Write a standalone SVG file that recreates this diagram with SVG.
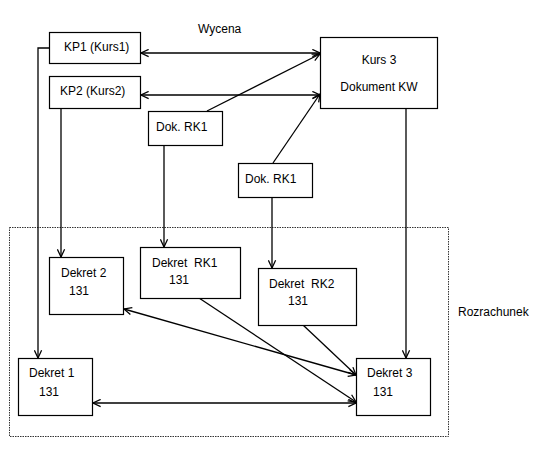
<svg xmlns="http://www.w3.org/2000/svg" width="537" height="450" viewBox="0 0 537 450">
<style>
.box{fill:#fff;stroke:#000;stroke-width:1.2}
.t{font-family:"Liberation Sans",Arial,sans-serif;font-size:12px;fill:#000;white-space:pre}
.c{fill:none;stroke:#000;stroke-width:1.3}
.zone{fill:none;stroke:#333;stroke-width:1;stroke-dasharray:1.5,1}
</style>
<defs>
<marker id="ah" viewBox="0 0 10 10" refX="9.5" refY="5" markerWidth="9" markerHeight="9" markerUnits="userSpaceOnUse" orient="auto-start-reverse">
<path d="M1,1 L9.5,5 L1,9" fill="none" stroke="#000" stroke-width="1.4"/>
</marker>
</defs>
<rect width="537" height="450" fill="#fff"/>
<g id="zone-rozrachunek">
<rect class="zone" x="9.5" y="227.5" width="439" height="209"/>
<text class="t" x="458" y="316">Rozrachunek</text>
</g>
<text id="label-wycena" class="t" x="198" y="33">Wycena</text>
<g id="connectors">
<line class="c" x1="141" y1="53" x2="320" y2="53" marker-start="url(#ah)" marker-end="url(#ah)"/>
<line class="c" x1="141" y1="95" x2="320" y2="95" marker-start="url(#ah)" marker-end="url(#ah)"/>
<line class="c" x1="207" y1="111" x2="320" y2="54" marker-end="url(#ah)"/>
<line class="c" x1="273" y1="163" x2="320" y2="94" marker-end="url(#ah)"/>
<path class="c" d="M49,48 H38 V358" marker-end="url(#ah)"/>
<path class="c" d="M61,108 V257" marker-end="url(#ah)"/>
<path class="c" d="M164,145 V247" marker-end="url(#ah)"/>
<path class="c" d="M272,197 V268" marker-end="url(#ah)"/>
<path class="c" d="M406,108 V358" marker-end="url(#ah)"/>
<line class="c" x1="124" y1="309" x2="356" y2="375" marker-start="url(#ah)" marker-end="url(#ah)"/>
<line class="c" x1="199" y1="298" x2="356" y2="402" marker-end="url(#ah)"/>
<line class="c" x1="303" y1="325" x2="356" y2="375" marker-end="url(#ah)"/>
<line class="c" x1="93" y1="403" x2="356" y2="403" marker-start="url(#ah)" marker-end="url(#ah)"/>
</g>
<g id="kp1">
<rect class="box" x="49.5" y="32.5" width="91" height="31"/>
<text class="t" x="64" y="51">KP1 (Kurs1)</text>
</g>
<g id="kp2">
<rect class="box" x="49.5" y="76.5" width="91" height="32"/>
<text class="t" x="60" y="95">KP2 (Kurs2)</text>
</g>
<g id="kurs3">
<rect class="box" x="320.5" y="37.5" width="117" height="71"/>
<text class="t" x="379" y="64" text-anchor="middle">Kurs 3</text>
<text class="t" x="379" y="91" text-anchor="middle">Dokument KW</text>
</g>
<g id="dok-rk1-a">
<rect class="box" x="148.5" y="111.5" width="74" height="34"/>
<text class="t" x="156" y="131">Dok. RK1</text>
</g>
<g id="dok-rk1-b">
<rect class="box" x="238.5" y="163.5" width="74" height="34"/>
<text class="t" x="245" y="183">Dok. RK1</text>
</g>
<g id="dekret2">
<rect class="box" x="49.5" y="257.5" width="74" height="57"/>
<text class="t" x="61" y="277">Dekret 2</text>
<text class="t" x="69" y="295">131</text>
</g>
<g id="dekret-rk1">
<rect class="box" x="140.5" y="247.5" width="100" height="51"/>
<text class="t" x="152" y="267">Dekret  RK1</text>
<text class="t" x="169" y="284">131</text>
</g>
<g id="dekret-rk2">
<rect class="box" x="258.5" y="268.5" width="98" height="57"/>
<text class="t" x="269" y="288">Dekret  RK2</text>
<text class="t" x="288" y="305">131</text>
</g>
<g id="dekret1">
<rect class="box" x="18.5" y="358.5" width="74" height="57"/>
<text class="t" x="29" y="377">Dekret 1</text>
<text class="t" x="39" y="396">131</text>
</g>
<g id="dekret3">
<rect class="box" x="356.5" y="358.5" width="74" height="57"/>
<text class="t" x="367" y="377">Dekret 3</text>
<text class="t" x="373" y="396">131</text>
</g>
</svg>
